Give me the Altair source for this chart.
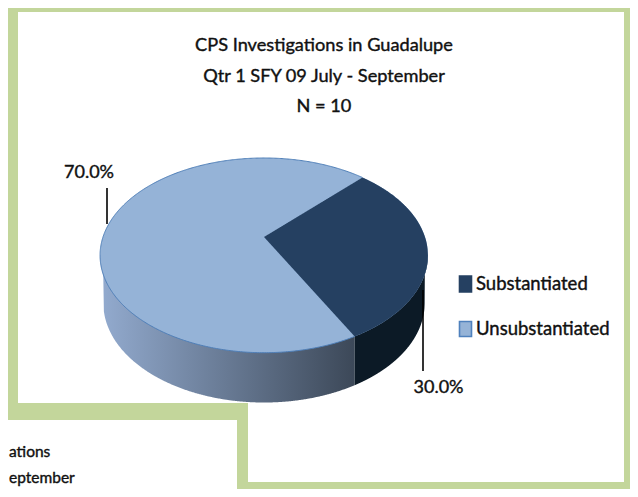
import numpy as np
import pandas as pd
import altair as alt

# ---- values ----
categories = ["Substantiated", "Unsubstantiated"]
shares = [30.0, 70.0]
share_labels = ["30.0%", "70.0%"]
title_lines = ["CPS Investigations in Guadalupe", "Qtr 1 SFY 09 July - September", "N = 10"]

# ---- page-pixel scales: the chart fills the page inside its 8px margin -----
W, H = 622, 481
X = alt.X("x:Q", scale=alt.Scale(domain=[8, 630], range=[0, W], nice=False, zero=False), axis=None)
Y = alt.Y("y:Q", scale=alt.Scale(domain=[8, 489], range=[0, H], nice=False, zero=False), axis=None)
Y2 = alt.Y2("y2:Q")
X2 = alt.X2("x2:Q")

GREEN = "#C3D69B"
LIGHT = "#95B3D7"
DARK = "#254061"
FONT = "Lato"

# ---- pie projection -----
AX, BY, K, PX, PY = 161.0, 93.9, 0.1885, 264.0, 237.0
START = 44.0
DEPTH_Y = 47.5
BASE_SX, BASE_SY = 0.98, 1.02


def project(deg, sx=1.0, sy=1.0, dy=0.0):
    a = np.radians(deg)
    u, v = np.sin(a), np.cos(a)
    w = 1 + K * v
    return PX + sx * AX * u / w, PY + dy - sy * BY * v / w


def envelope(px, py, n=500):
    """upper and lower outline of a convex polygon, as y(x) for an area mark"""
    xs = np.linspace(px.min(), px.max(), n)
    ys = []
    for x0 in xs:
        hits = []
        for i in range(len(px)):
            j = (i + 1) % len(px)
            a, b = px[i], px[j]
            if (a - x0) * (b - x0) <= 0 and a != b:
                hits.append(py[i] + (x0 - a) / (b - a) * (py[j] - py[i]))
        ys.append((min(hits), max(hits)) if hits else (np.nan, np.nan))
    ys = np.array(ys)
    return pd.DataFrame({"x": xs, "y": ys[:, 0], "y2": ys[:, 1]}).dropna()


def sorted_xy(a, b):
    o = np.argsort(a)
    return a[o], b[o]


span_dark = 360.0 * shares[0] / sum(shares)
END = START + span_dark
full = np.linspace(0, 360, 721)[:-1]
top_x, top_y = project(full)
base_x, base_y = project(full, BASE_SX, BASE_SY, DEPTH_Y)


# silhouette of the wall: the hull of the top and base outlines, below mid-height
def wall(x_from, x_to, n=400):
    xs = np.linspace(x_from, x_to, n)
    rows = []
    for x0 in xs:
        i = top_y > 255
        yt = np.interp(x0, *sorted_xy(top_x[i], top_y[i]))
        j = base_y > 300
        if base_x[j].min() <= x0 <= base_x[j].max():
            yb = np.interp(x0, *sorted_xy(base_x[j], base_y[j]))
        else:
            yb = yt
        rows.append((x0, 255.0, max(yt, yb)))
    return pd.DataFrame(rows, columns=["x", "y", "y2"])


edge_x, edge_y = project(END)
wall_light = wall(top_x.min(), edge_x)
wall_dark = wall(edge_x, top_x.max())

ellipse_df = envelope(top_x, top_y)
arc = np.linspace(START, END, 200)
ax_, ay_ = project(arc)
wedge_df = envelope(np.r_[PX, ax_], np.r_[PY, ay_])
rim = np.linspace(END, START + 360.0, 500)
rim_x, rim_y = project(rim)
outline_df = pd.DataFrame({"x": rim_x, "y": rim_y, "i": np.arange(len(rim))})

grad = alt.Gradient(
    gradient="linear", x1=0, x2=1, y1=0, y2=0,
    stops=[alt.GradientStop(offset=0, color="#93ABCF"), alt.GradientStop(offset=1, color="#3C4858")],
)


def area(df, fill):
    return alt.Chart(df).mark_area(fill=fill, opacity=1, interpolate="linear").encode(x=X, y=Y, y2=Y2)


# ---- frame of the screenshot (right and bottom strips sit just inside the page margin) ----
frame = pd.DataFrame(
    {
        "x": [8, 8, 624, 248, 8, 237],
        "x2": [630, 18, 630, 630, 248, 248],
        "y": [8, 8, 8, 482, 403, 403],
        "y2": [12, 403, 489, 489, 420, 489],
    }
)
frame_l = alt.Chart(frame).mark_rect(color=GREEN).encode(x=X, x2=X2, y=Y, y2=Y2)

# ---- leaders ----
lead = pd.DataFrame({"x": [107, 423], "y": [188, 290], "y2": [224, 371]})
lead_l = alt.Chart(lead).mark_rule(color="#000000", strokeWidth=1.6).encode(x=X, y=Y, y2=Y2)

# ---- legend ----
legend = pd.DataFrame(
    {
        "x": [459.5, 459.5],
        "x2": [471.5, 471.5],
        "y": [276, 321.5],
        "y2": [292, 336.5],
        "cat": categories,
    }
)
legend_rect = (
    alt.Chart(legend)
    .mark_rect(strokeWidth=1.6)
    .encode(
        x=X, x2=X2, y=Y, y2=Y2,
        fill=alt.Fill("cat:N", scale=alt.Scale(domain=categories, range=[DARK, LIGHT]), legend=None),
        stroke=alt.Stroke("cat:N", scale=alt.Scale(domain=categories, range=[DARK, "#4F81BD"]), legend=None),
    )
)


def text(rows, size, align="center"):
    df = pd.DataFrame(rows, columns=["x", "y", "t"])
    return (
        alt.Chart(df)
        .mark_text(font=FONT, fontSize=size, align=align, baseline="middle", color="#111111",
                   stroke="#111111", strokeWidth=0.4)
        .encode(x=X, y=Y, text="t:N")
    )


titles = text([(324, 46, title_lines[0]), (324, 76.5, title_lines[1]), (324, 107, title_lines[2])], 18.2)
labels = text([(89, 173, share_labels[1]), (438.5, 388, share_labels[0])], 18)
legend_txt = text([(476, 283.5, categories[0]), (476, 329, categories[1])], 18.5, "left")
stray = text([(9, 452, "ations"), (9, 478, "eptember")], 15.5, "left")

chart = (
    alt.layer(
        frame_l,
        area(wall_light, grad),
        area(wall_dark, "#0C1A26"),
        lead_l,
        area(ellipse_df, LIGHT),
        area(wedge_df, DARK),
        alt.Chart(outline_df).mark_line(color="#4F7FB8", strokeWidth=1).encode(x=X, y=Y, order="i:Q"),
        legend_rect,
        titles,
        labels,
        legend_txt,
        stray,
    )
    .properties(width=W, height=H, padding=0, autosize=alt.AutoSizeParams(type="none"), background="#FFFFFF")
    .configure_view(stroke=None)
)

chart.save("out.html", embed_options={"renderer": "svg", "actions": False})
